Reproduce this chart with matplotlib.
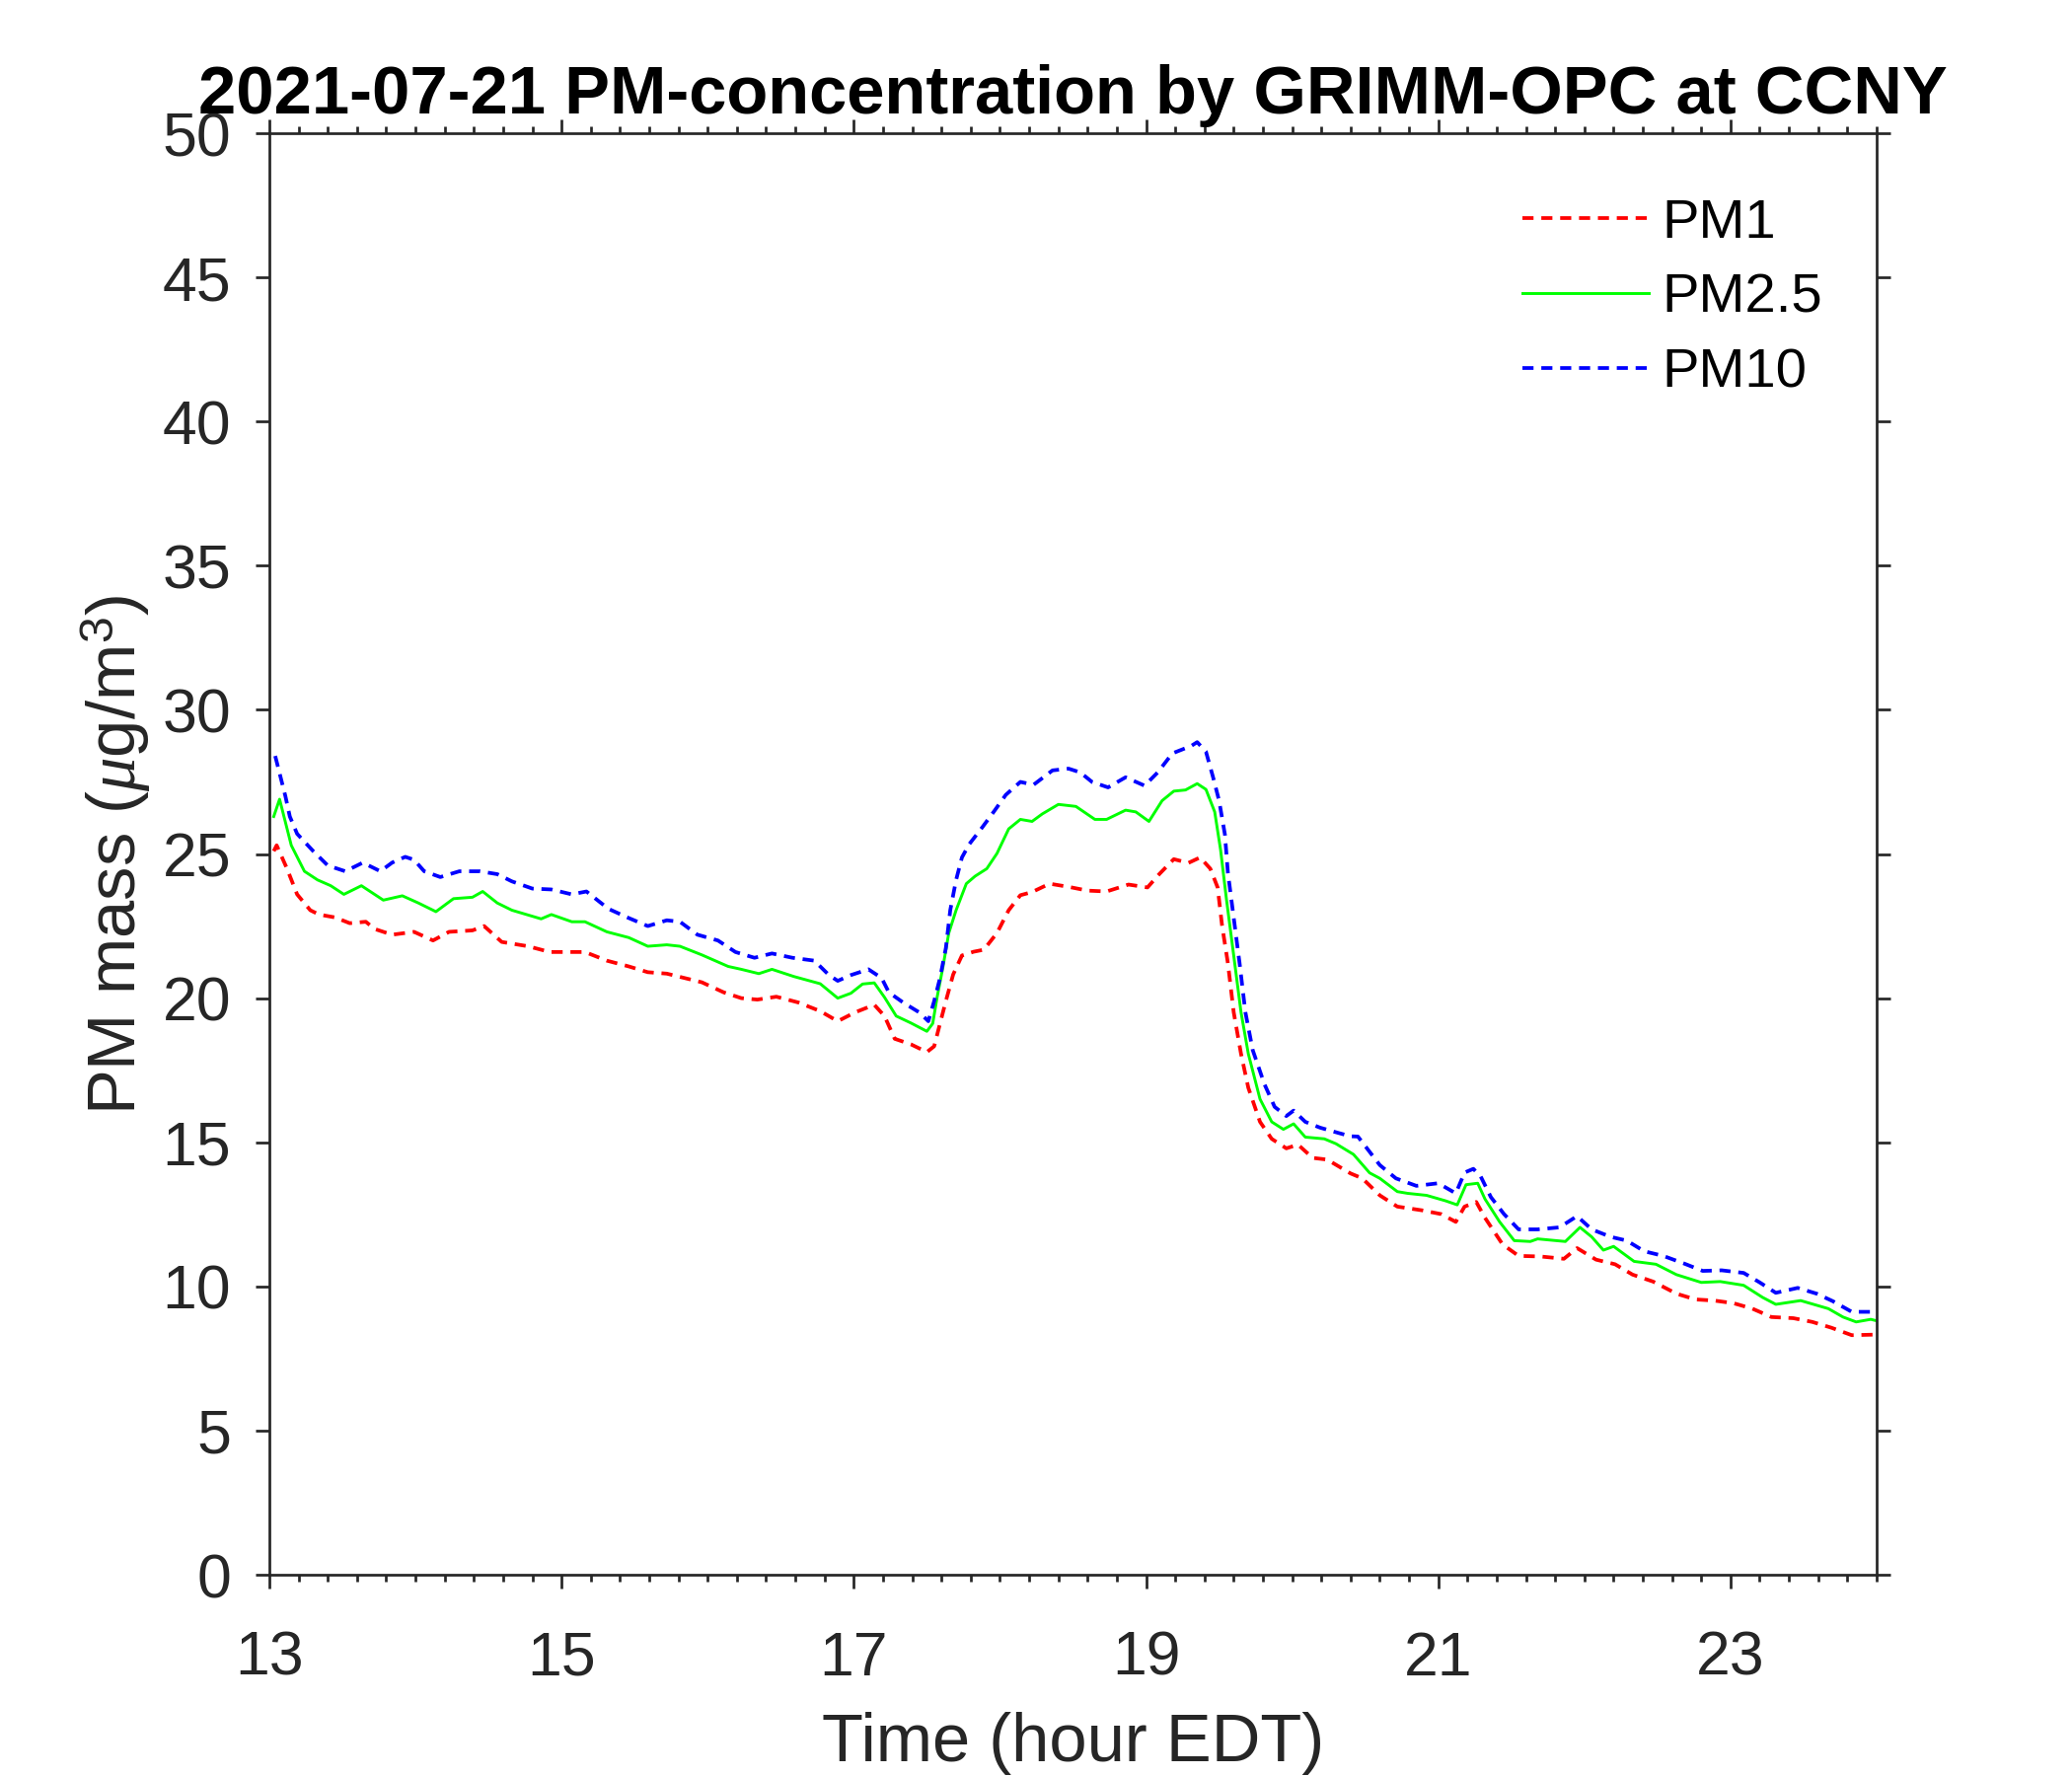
import matplotlib
matplotlib.use("Agg")
import matplotlib.pyplot as plt
import numpy as np
from matplotlib.ticker import MultipleLocator

plt.rcParams['font.family'] = ['Liberation Sans', 'DejaVu Sans']
plt.rcParams['mathtext.fontset'] = 'custom'
plt.rcParams['mathtext.rm'] = 'Liberation Sans'
plt.rcParams['mathtext.it'] = 'Liberation Serif:italic'

# PM10 (blue, dashed)
hora_pm10 = [13.04, 13.08, 13.11, 13.14, 13.19, 13.30, 13.40, 13.52, 13.64, 13.76, 13.84, 13.93,
             13.99, 14.06, 14.17, 14.30, 14.44, 14.56, 14.66, 14.80, 14.93, 15.07, 15.17, 15.32,
             15.45, 15.59, 15.72, 15.81, 15.93, 16.07, 16.19, 16.32, 16.44, 16.58, 16.73, 16.83,
             16.89, 16.98, 17.10, 17.19, 17.24, 17.34, 17.45, 17.51, 17.55, 17.59, 17.63, 17.66,
             17.70, 17.74, 17.79, 17.88, 17.96, 18.04, 18.14, 18.23, 18.36, 18.47, 18.55, 18.63,
             18.74, 18.86, 18.99, 19.08, 19.18, 19.31, 19.35, 19.41, 19.46, 19.50, 19.54, 19.56,
             19.60, 19.64, 19.68, 19.73, 19.81, 19.88, 19.96, 20.01, 20.09, 20.19, 20.32, 20.40,
             20.45, 20.50, 20.60, 20.71, 20.85, 21.00, 21.12, 21.18, 21.24, 21.29, 21.36, 21.45,
             21.55, 21.68, 21.83, 21.95, 22.05, 22.18, 22.29, 22.41, 22.54, 22.68, 22.81, 22.94,
             23.09, 23.20, 23.31, 23.46, 23.59, 23.70, 23.83, 23.99]
pm10 = [28.4, 27.6, 27.0, 26.3, 25.7, 25.1, 24.6, 24.4, 24.7, 24.4, 24.7, 24.9,
        24.8, 24.4, 24.2, 24.4, 24.4, 24.3, 24.05, 23.8, 23.77, 23.6, 23.7, 23.1,
        22.8, 22.5, 22.7, 22.65, 22.2, 22.0, 21.6, 21.4, 21.55, 21.4, 21.3, 20.8,
        20.6, 20.8, 21.0, 20.7, 20.2, 19.84, 19.5, 19.2, 19.9, 20.7, 21.74, 23.05,
        24.1, 24.88, 25.34, 25.93, 26.48, 27.05, 27.5, 27.4, 27.9, 27.96, 27.83, 27.5,
        27.31, 27.66, 27.37, 27.83, 28.49, 28.75, 28.88, 28.55, 27.64, 26.85, 25.67, 24.36,
        22.79, 21.22, 19.51, 18.2, 17.02, 16.23, 15.91, 16.1, 15.71, 15.51, 15.32, 15.21,
        15.2, 14.87, 14.21, 13.75, 13.49, 13.58, 13.23, 13.95, 14.08, 13.82, 13.1, 12.51,
        11.98, 11.98, 12.05, 12.44, 11.98, 11.72, 11.59, 11.22, 11.06, 10.8, 10.54, 10.56,
        10.47, 10.14, 9.78, 9.95, 9.75, 9.49, 9.12, 9.12]

# PM2.5 (green, solid)
hora_pm25 = [13.03, 13.07, 13.10, 13.15, 13.24, 13.33, 13.42, 13.51, 13.63, 13.78, 13.91, 14.02,
             14.14, 14.26, 14.39, 14.46, 14.56, 14.66, 14.86, 14.93, 15.07, 15.16, 15.31, 15.46,
             15.59, 15.72, 15.81, 15.96, 16.14, 16.23, 16.35, 16.44, 16.59, 16.77, 16.89, 16.98,
             17.06, 17.14, 17.21, 17.29, 17.39, 17.50, 17.54, 17.57, 17.61, 17.65, 17.70, 17.77,
             17.83, 17.91, 17.98, 18.06, 18.14, 18.22, 18.29, 18.40, 18.52, 18.65, 18.73, 18.86,
             18.93, 19.02, 19.11, 19.19, 19.27, 19.35, 19.41, 19.47, 19.51, 19.55, 19.60, 19.65,
             19.70, 19.78, 19.86, 19.94, 20.01, 20.09, 20.22, 20.30, 20.42, 20.53, 20.60, 20.72,
             20.79, 20.92, 21.05, 21.13, 21.19, 21.27, 21.32, 21.42, 21.52, 21.63, 21.68, 21.87,
             21.97, 22.05, 22.13, 22.20, 22.34, 22.49, 22.63, 22.80, 22.93, 23.09, 23.22, 23.31,
             23.48, 23.67, 23.77, 23.86, 23.96, 24.00]
pm25 = [26.3, 26.9, 26.3, 25.3, 24.4, 24.1, 23.9, 23.6, 23.9, 23.4, 23.55, 23.3,
        23.0, 23.45, 23.5, 23.7, 23.3, 23.05, 22.75, 22.9, 22.65, 22.65, 22.3, 22.1,
        21.8, 21.85, 21.8, 21.5, 21.1, 21.0, 20.85, 21.0, 20.75, 20.5, 20.0, 20.17,
        20.49, 20.53, 20.03, 19.38, 19.14, 18.85, 19.12, 20.03, 21.08, 22.26, 23.05, 23.97,
        24.23, 24.49, 25.02, 25.87, 26.2, 26.13, 26.39, 26.72, 26.65, 26.2, 26.2, 26.52,
        26.46, 26.13, 26.85, 27.18, 27.22, 27.44, 27.24, 26.46, 25.15, 23.44, 21.48, 19.51,
        18.07, 16.5, 15.71, 15.45, 15.64, 15.18, 15.12, 14.95, 14.58, 13.94, 13.75, 13.29,
        13.23, 13.16, 12.97, 12.83, 13.53, 13.58, 13.03, 12.24, 11.59, 11.56, 11.65, 11.56,
        12.05, 11.72, 11.26, 11.39, 10.87, 10.77, 10.41, 10.14, 10.17, 10.04, 9.62, 9.38,
        9.51, 9.23, 8.94, 8.77, 8.86, 8.81]

# PM1 (red, dashed)
hora_pm1 = [13.03, 13.05, 13.12, 13.19, 13.28, 13.34, 13.45, 13.55, 13.66, 13.72, 13.84, 13.99,
            14.12, 14.23, 14.39, 14.47, 14.59, 14.77, 14.92, 15.07, 15.16, 15.31, 15.46, 15.59,
            15.72, 15.84, 15.96, 16.11, 16.23, 16.34, 16.47, 16.62, 16.77, 16.89, 17.01, 17.14,
            17.21, 17.28, 17.39, 17.50, 17.55, 17.59, 17.63, 17.68, 17.74, 17.82, 17.89, 17.98,
            18.06, 18.14, 18.22, 18.34, 18.47, 18.60, 18.73, 18.88, 19.01, 19.09, 19.19, 19.29,
            19.37, 19.44, 19.49, 19.52, 19.56, 19.60, 19.65, 19.70, 19.78, 19.86, 19.96, 20.04,
            20.14, 20.24, 20.40, 20.48, 20.60, 20.72, 20.89, 21.02, 21.12, 21.18, 21.26, 21.32,
            21.44, 21.55, 21.70, 21.86, 21.95, 22.08, 22.21, 22.33, 22.47, 22.63, 22.76, 22.89,
            23.02, 23.15, 23.28, 23.43, 23.56, 23.69, 23.83, 23.99]
pm1 = [25.1, 25.3, 24.5, 23.6, 23.05, 22.9, 22.8, 22.6, 22.65, 22.4, 22.2, 22.3,
       22.0, 22.3, 22.35, 22.5, 21.95, 21.8, 21.6, 21.6, 21.6, 21.3, 21.1, 20.9,
       20.85, 20.7, 20.55, 20.2, 20.0, 19.95, 20.05, 19.85, 19.55, 19.2, 19.51, 19.77,
       19.38, 18.59, 18.4, 18.13, 18.33, 19.12, 19.9, 20.82, 21.48, 21.61, 21.68, 22.26,
       23.05, 23.57, 23.68, 23.97, 23.86, 23.73, 23.7, 23.94, 23.84, 24.3, 24.82, 24.69,
       24.88, 24.49, 23.84, 22.53, 21.22, 19.51, 18.07, 16.89, 15.71, 15.12, 14.79, 14.92,
       14.46, 14.4, 13.92, 13.75, 13.16, 12.77, 12.64, 12.51, 12.24, 12.77, 12.93, 12.38,
       11.46, 11.06, 11.04, 10.96, 11.33, 10.93, 10.77, 10.41, 10.17, 9.75, 9.55, 9.51,
       9.42, 9.23, 8.94, 8.9, 8.77, 8.57, 8.31, 8.33]

titulo = '2021-07-21 PM-concentration by GRIMM-OPC at CCNY'
gris = '#262626'

fig = plt.figure(figsize=(14, 12), dpi=150)
ax = fig.add_axes([0.130, 0.1133, 0.7757, 0.8117])

ax.plot(hora_pm1, pm1, color='#ff0000', lw=1.8, linestyle=(0, (3.0, 2.1)), label='PM1')
ax.plot(hora_pm25, pm25, color='#00ff00', lw=1.4, linestyle='-', label='PM2.5')
ax.plot(hora_pm10, pm10, color='#0000ff', lw=1.8, linestyle=(0, (3.0, 2.1)), label='PM10')

ax.set_xlim(13, 24)
ax.set_ylim(0, 50)
ax.set_xticks(np.arange(13, 24, 2))
ax.set_yticks(np.arange(0, 51, 5))
ax.xaxis.set_minor_locator(MultipleLocator(0.2))

for s in ax.spines.values():
    s.set_linewidth(1.3)
    s.set_color(gris)

ax.tick_params(which='both', direction='out', top=True, right=True, color=gris,
               labelcolor=gris, width=1.3)
ax.tick_params(which='major', length=6.7, labelsize=30)
ax.tick_params(which='minor', length=3.4)
ax.tick_params(axis='y', which='minor', left=False, right=False)
ax.tick_params(axis='x', which='major', pad=20)
ax.tick_params(axis='y', which='major', pad=12)

ax.text(0.5, 1.0137, titulo, transform=ax.transAxes, ha='center', va='baseline',
        fontsize=33, fontweight='bold', color='black')
fig.text(1088 / 2100, 1 - 1785 / 1800, 'Time (hour EDT)', ha='center', va='baseline',
         fontsize=33, color=gris)
fig.text(138 / 2100, 1 - 866 / 1800, r'PM mass ($\mu$g/m$^3$)', ha='center', va='baseline',
         rotation=90, rotation_mode='anchor', fontsize=33, color=gris)

leg = ax.legend(loc='upper left', bbox_to_anchor=(1543 / 2100, 1 - 201 / 1800),
                bbox_transform=fig.transFigure, frameon=False, fontsize=27,
                handlelength=2.27, handletextpad=0.25, labelspacing=0.42,
                borderpad=0, borderaxespad=0)

fig.savefig('out.png', dpi=150)
